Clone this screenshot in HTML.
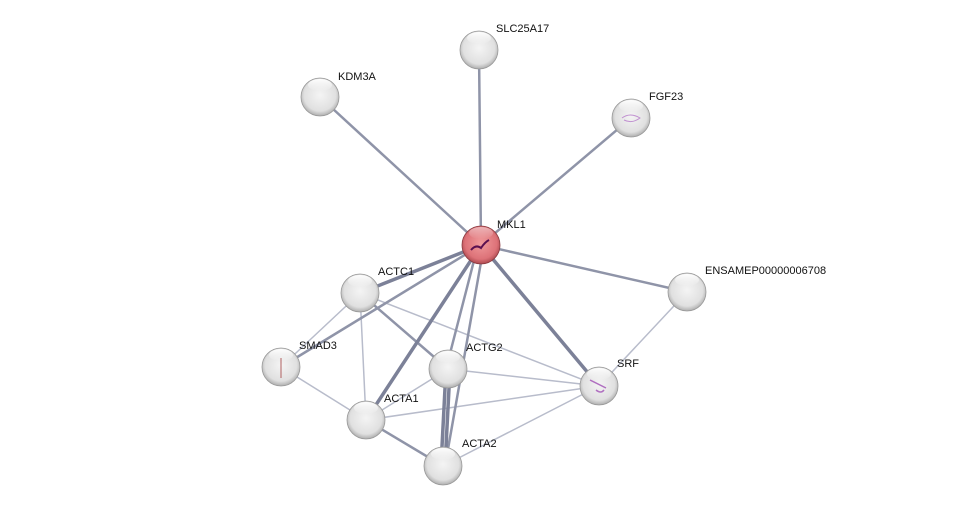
<!DOCTYPE html>
<html><head><meta charset="utf-8"><style>
html,body{margin:0;padding:0;background:#fff;}
svg{display:block}
text{font-family:"Liberation Sans",sans-serif;font-size:11px;fill:#111}
</style></head><body>
<svg width="975" height="510" viewBox="0 0 975 510" xmlns="http://www.w3.org/2000/svg">
<defs>
<radialGradient id="g" cx="0.5" cy="0.45" r="0.6">
<stop offset="0" stop-color="#f4f4f4"/><stop offset="0.7" stop-color="#e0e0e0"/><stop offset="1" stop-color="#9a9a9a"/>
</radialGradient>
<radialGradient id="r" cx="0.5" cy="0.45" r="0.6">
<stop offset="0" stop-color="#f09a9c"/><stop offset="0.7" stop-color="#dd7278"/><stop offset="1" stop-color="#9c3a40"/>
</radialGradient>
<linearGradient id="h" x1="0" y1="0" x2="0" y2="1">
<stop offset="0" stop-color="#fff" stop-opacity="0.95"/><stop offset="1" stop-color="#fff" stop-opacity="0"/>
</linearGradient>
</defs>
<g stroke-linecap="round">
<g stroke="#b8bccb" stroke-width="1.5">
<line x1="687" y1="292" x2="599" y2="386"/>
<line x1="360" y1="293" x2="599" y2="386"/>
<line x1="360" y1="293" x2="281" y2="367"/>
<line x1="360" y1="293" x2="366" y2="420"/>
<line x1="281" y1="367" x2="366" y2="420"/>
<line x1="448" y1="369" x2="599" y2="386"/>
<line x1="448" y1="369" x2="366" y2="420"/>
<line x1="366" y1="420" x2="599" y2="386"/>
<line x1="443" y1="466" x2="599" y2="386"/>
</g>
<g stroke="#8f94a8" stroke-width="2.5">
<line x1="481" y1="245" x2="479" y2="50"/>
<line x1="481" y1="245" x2="320" y2="97"/>
<line x1="481" y1="245" x2="631" y2="118"/>
<line x1="481" y1="245" x2="687" y2="292"/>
<line x1="481" y1="245" x2="281" y2="367"/>
<line x1="360" y1="293" x2="448" y2="369"/>
<line x1="366" y1="420" x2="443" y2="466"/>
<line x1="478" y1="245" x2="446" y2="369"/>
<line x1="484" y1="245" x2="445" y2="466"/>
</g>
<g stroke="#7c8198" stroke-width="3.5">
<line x1="481" y1="245" x2="360" y2="293"/>
<line x1="481" y1="245" x2="366" y2="420"/>
<line x1="481" y1="245" x2="599" y2="386"/>
<line x1="446" y1="369" x2="441" y2="466"/>
<line x1="450" y1="369" x2="445" y2="466"/>
</g>
</g>
<g stroke="#999" stroke-width="0.8">
<circle cx="479" cy="50" r="19" fill="url(#g)"/>
<circle cx="320" cy="97" r="19" fill="url(#g)"/>
<circle cx="631" cy="118" r="19" fill="url(#g)"/>
<circle cx="687" cy="292" r="19" fill="url(#g)"/>
<circle cx="360" cy="293" r="19" fill="url(#g)"/>
<circle cx="281" cy="367" r="19" fill="url(#g)"/>
<circle cx="448" cy="369" r="19" fill="url(#g)"/>
<circle cx="599" cy="386" r="19" fill="url(#g)"/>
<circle cx="366" cy="420" r="19" fill="url(#g)"/>
<circle cx="443" cy="466" r="19" fill="url(#g)"/>
<circle cx="481" cy="245" r="19" fill="url(#r)" stroke="#8a3a40"/>
</g>
<g fill="url(#h)">
<ellipse cx="479" cy="38" rx="12" ry="6"/>
<ellipse cx="320" cy="85" rx="12" ry="6"/>
<ellipse cx="631" cy="106" rx="12" ry="6"/>
<ellipse cx="687" cy="280" rx="12" ry="6"/>
<ellipse cx="360" cy="281" rx="12" ry="6"/>
<ellipse cx="281" cy="355" rx="12" ry="6"/>
<ellipse cx="448" cy="357" rx="12" ry="6"/>
<ellipse cx="599" cy="374" rx="12" ry="6"/>
<ellipse cx="366" cy="408" rx="12" ry="6"/>
<ellipse cx="443" cy="454" rx="12" ry="6"/>
<ellipse cx="481" cy="233" rx="12" ry="6" opacity="0.5"/>
</g>
<path d="M471 250 q5 -6 10 -2 q4 -6 8 -8" stroke="#5a1050" stroke-width="2" fill="none"/>
<path d="M590 380 q8 4 16 8 M596 390 q5 4 8 0" stroke="#b070c0" stroke-width="1.5" fill="none"/>
<path d="M622 118 q8 -6 18 0 q-8 6 -16 2" stroke="#c090d0" stroke-width="1" fill="none"/>
<path d="M281 358 v20" stroke="#b06060" stroke-width="1" fill="none"/>
<text x="497" y="228">MKL1</text>
<text x="496" y="32">SLC25A17</text>
<text x="338" y="80">KDM3A</text>
<text x="649" y="100">FGF23</text>
<text x="705" y="274">ENSAMEP00000006708</text>
<text x="378" y="275">ACTC1</text>
<text x="299" y="349">SMAD3</text>
<text x="466" y="351">ACTG2</text>
<text x="617" y="367">SRF</text>
<text x="384" y="402">ACTA1</text>
<text x="462" y="447">ACTA2</text>
</svg>
</body></html>
